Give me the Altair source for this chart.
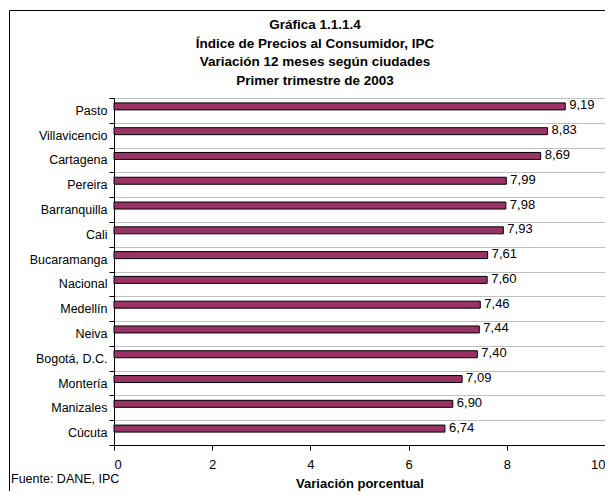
import altair as alt
import pandas as pd

ciudades = ["Pasto", "Villavicencio", "Cartagena", "Pereira", "Barranquilla", "Cali",
            "Bucaramanga", "Nacional", "Medellín", "Neiva", "Bogotá, D.C.", "Montería",
            "Manizales", "Cúcuta"]
valores = [9.19, 8.83, 8.69, 7.99, 7.98, 7.93, 7.61, 7.60, 7.46, 7.44, 7.40, 7.09, 6.90, 6.74]
x_ticks = [0, 2, 4, 6, 8, 10]
titulo = ["Gráfica 1.1.1.4", "Índice de Precios al Consumidor, IPC",
          "Variación 12 meses según ciudades", "Primer trimestre de 2003"]
fuente_txt = "Fuente: DANE, IPC"

df = pd.DataFrame({"ciudad": ciudades, "valor": valores})
df["etiqueta"] = [f"{v:.2f}".replace(".", ",") for v in valores]

FONT = "Liberation Sans"

y_enc = alt.Y("ciudad:N", sort=ciudades, title=None,
              scale=alt.Scale(paddingInner=0, paddingOuter=0),
              axis=alt.Axis(tickBand="extent", grid=True, gridColor="#c0c0c0",
                            domainColor="black", tickColor="black", tickSize=5,
                            labelFont=FONT, labelFontSize=12.5, labelColor="black",
                            labelPadding=2))
x_enc = alt.X("valor:Q", scale=alt.Scale(domain=[0, 10], nice=False),
              axis=alt.Axis(values=x_ticks, grid=False, domainColor="black",
                            tickColor="black", tickSize=5, labelFont=FONT,
                            labelFontSize=13, labelColor="black", labelPadding=8,
                            title="Variación porcentual", titleFont=FONT,
                            titleFontSize=13, titleFontWeight="bold", titleColor="black",
                            titleY=42, titleBaseline="alphabetic"))

base = alt.Chart(df)

bars = base.mark_bar(color="#993366", stroke="black", strokeWidth=1, height=7,
                     yOffset=-4).encode(x=x_enc, y=y_enc)

labels = base.mark_text(align="left", baseline="middle", dx=4, dy=-5, font=FONT,
                        fontSize=13, color="black").encode(
    x="valor:Q", y=alt.Y("ciudad:N", sort=ciudades), text="etiqueta:N")

one = pd.DataFrame({"a": [0]})
left_line = alt.Chart(one).mark_rule(color="black", strokeWidth=1).encode(
    x=alt.value(-104.5), y=alt.value(-87.5), y2=alt.value(400))
top_line = alt.Chart(one).mark_rule(color="black", strokeWidth=1).encode(
    x=alt.value(-104.5), x2=alt.value(500), y=alt.value(-87.5))

title_txt = alt.Chart(one).mark_text(
    align="center", baseline="alphabetic", font=FONT, fontSize=13.5, fontWeight="bold",
    color="black", lineHeight=18.7).encode(
    x=alt.value(201), y=alt.value(-69), text=alt.value(titulo))

fuente = alt.Chart(one).mark_text(
    align="left", baseline="alphabetic", font=FONT, fontSize=12.5, color="black").encode(
    x=alt.value(-103), y=alt.value(385), text=alt.value(fuente_txt))

chart = alt.layer(bars, labels, left_line, top_line, title_txt, fuente).properties(
    width=491, height=347,
    padding={"left": 106, "top": 90, "right": 0, "bottom": 46},
    autosize=alt.AutoSizeParams(type="none"),
).configure_view(stroke="#808080", strokeWidth=1).configure(background="white")

chart.save("out.html", embed_options={"renderer": "svg", "actions": False})
